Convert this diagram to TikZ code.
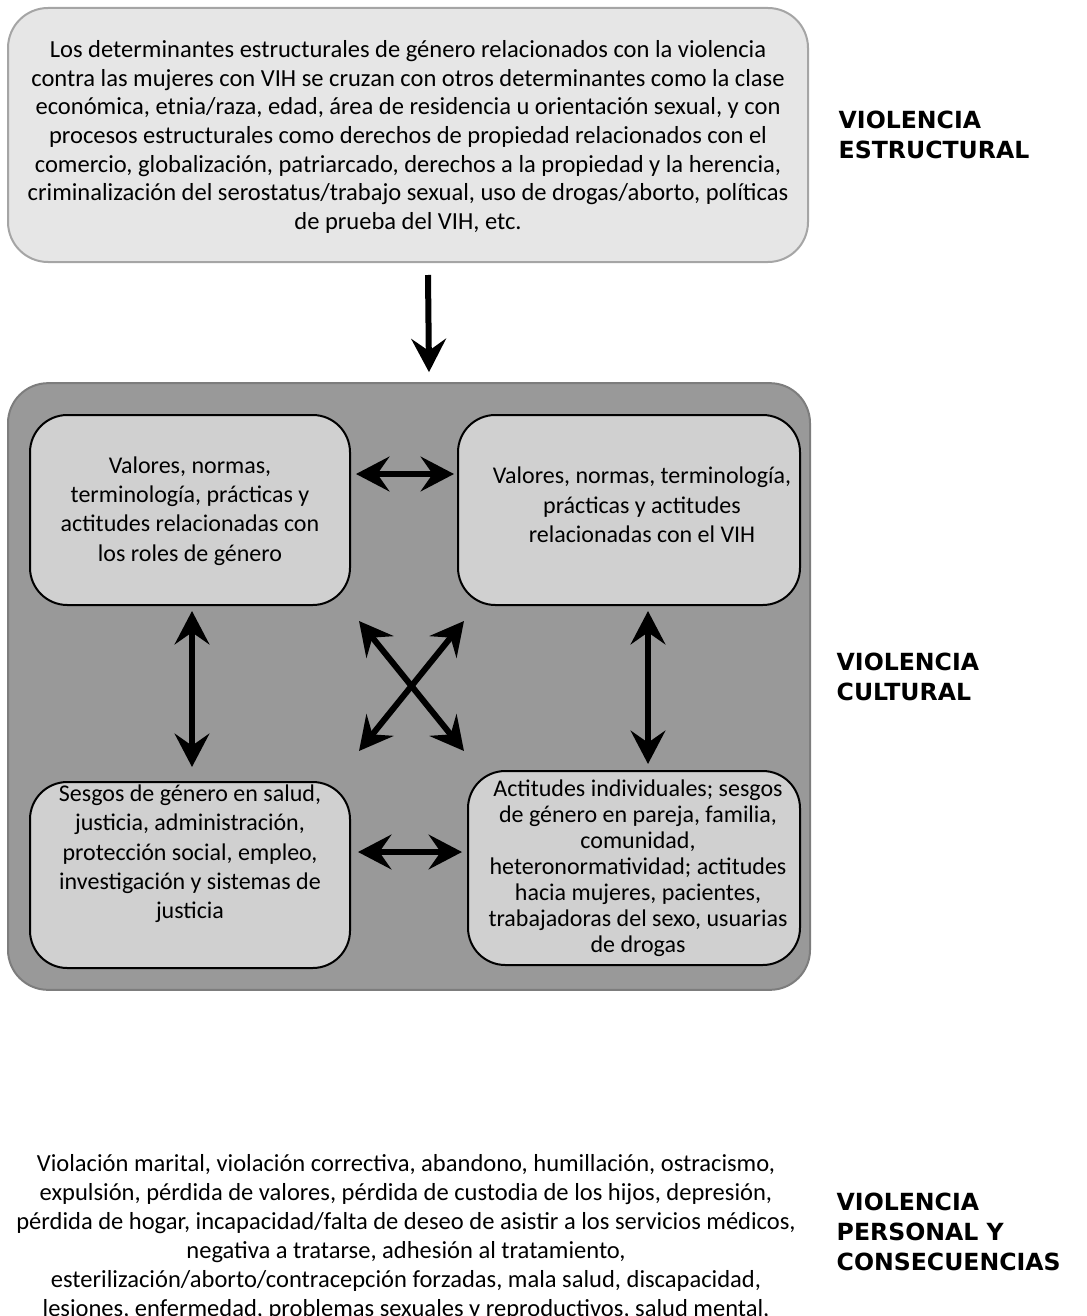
\documentclass[tikz,border=0pt]{standalone}
\usepackage{fontspec}
\setmainfont{Carlito}
\newfontfamily\headfont{DejaVu Sans Bold}
\definecolor{topgray}{RGB}{230,230,230}
\definecolor{topedge}{RGB}{165,165,165}
\definecolor{culgray}{RGB}{153,153,153}
\definecolor{culedge}{RGB}{125,125,125}
\definecolor{boxgray}{RGB}{208,208,208}
\usetikzlibrary{arrows.meta,positioning,calc}

\begin{document}
\begin{tikzpicture}[x=0.75pt,y=-0.75pt,
  panel/.style={rounded corners=30pt,line width=1.5pt},
  cbox/.style={draw=black,fill=boxgray,rounded corners=28pt,line width=1.5pt},
  ctext/.style={align=center,font=\fontsize{18}{22}\selectfont},
  dbl/.style={{Stealth[length=25pt,width=26pt,inset=9pt]}-{Stealth[length=25pt,width=26pt,inset=9pt]},line width=4.5pt},
  down/.style={-{Stealth[length=25pt,width=26pt,inset=9pt]},line width=4.5pt},
  level/.style={font=\headfont\fontsize{17.7}{22.5}\selectfont,align=left,anchor=west}
]
  \useasboundingbox (0,0) rectangle (1086,1316);

  % Structural violence
  \node[panel,draw=topedge,fill=topgray,minimum width=600pt,minimum height=190.5pt] (struct) at (408,135) {};
  \node[ctext,font=\fontsize{18.4}{21.5}\selectfont] (structtxt) at (408,137) {Los determinantes estructurales de género relacionados con la violencia\\
    contra las mujeres con VIH se cruzan con otros determinantes como la clase\\
    económica, etnia/raza, edad, área de residencia u orientación sexual, y con\\
    procesos estructurales como derechos de propiedad relacionados con el\\
    comercio, globalización, patriarcado, derechos a la propiedad y la herencia,\\
    criminalización del serostatus/trabajo sexual, uso de drogas/aborto, políticas\\
    de prueba del VIH, etc.};

  % Cultural violence
  \node[panel,draw=culedge,fill=culgray,minimum width=601.5pt,minimum height=455pt] (cult) at (409,686.5) {};
  \draw[down] ([shift={(20,12)}]struct.south) -- ([shift={(20,-10)}]cult.north);

  \node[cbox,minimum width=240pt,minimum height=142.5pt] (tl) at (190,510) {};
  \node[cbox,minimum width=256.5pt,minimum height=142.5pt] (tr) at (629,510) {};
  \node[cbox,minimum width=240pt,minimum height=139.5pt] (bl) at (190,875) {};
  \node[cbox,minimum width=249pt,minimum height=145.5pt] (br) at (634,868) {};

  \node[ctext] (tltxt) at (190,511) {Valores, normas,\\terminología, prácticas y\\actitudes relacionadas con\\los roles de género};
  \node[ctext] (trtxt) at (642,505) {Valores, normas, terminología,\\prácticas y actitudes\\relacionadas con el VIH};
  \node[ctext] (bltxt) at (190,854) {Sesgos de género en salud,\\justicia, administración,\\protección social, empleo,\\investigación y sistemas de\\justicia};
  \node[ctext,font=\fontsize{18}{19.5}\selectfont] (brtxt) at (638,868) {Actitudes individuales; sesgos\\de género en pareja, familia,\\comunidad,\\heteronormatividad; actitudes\\hacia mujeres, pacientes,\\trabajadoras del sexo, usuarias\\de drogas};

  % Connections between the four boxes
  \draw[dbl] ([shift={(5,-36)}]tl.east) -- ([shift={(-3,-36)}]tl.east -| tr.west);
  \draw[dbl] ([shift={(2,5)}]tl.south) -- ([shift={(2,-14)}]tl.south |- bl.north);
  \draw[dbl] ([shift={(19,5)}]tr.south) -- ([shift={(19,-6)}]tr.south |- br.north);
  \draw[dbl] ([shift={(7,-23)}]bl.east) -- ([shift={(-5,-23)}]bl.east -| br.west);
  \draw[dbl] ([shift={(8,15)}]tl.south east) -- ([shift={(-3,-19)}]br.north west);
  \draw[dbl] ([shift={(7,15)}]tr.south west) -- ([shift={(8,-30)}]bl.north east);

  % Consequences
  \node[align=center,anchor=north,font=\fontsize{18.4}{21.75}\selectfont] (pers) at (406,1150) {Violación marital, violación correctiva, abandono, humillación, ostracismo,\\
    expulsión, pérdida de valores, pérdida de custodia de los hijos, depresión,\\
    pérdida de hogar, incapacidad/falta de deseo de asistir a los servicios médicos,\\
    negativa a tratarse, adhesión al tratamiento,\\
    esterilización/aborto/contracepción forzadas, mala salud, discapacidad,\\
    lesiones, enfermedad, problemas sexuales y reproductivos, salud mental,};

  % Level labels
  \node[level] (lstruct) at (834,135) {VIOLENCIA\\ESTRUCTURAL};
  \node[level] (lcult) at (832,677) {VIOLENCIA\\CULTURAL};
  \node[level] (lpers) at (832,1232) {VIOLENCIA\\PERSONAL Y\\CONSECUENCIAS};
\end{tikzpicture}
\end{document}
